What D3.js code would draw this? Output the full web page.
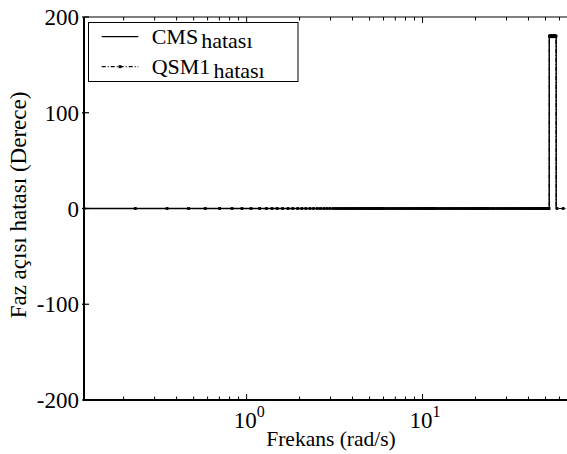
<!DOCTYPE html>
<html>
<head>
<meta charset="utf-8">
<script src="https://cdn.jsdelivr.net/npm/d3@7"></script>
<style>
  html, body { margin: 0; padding: 0; background: #fff; }
  svg { display: block; }
</style>
</head>
<body>
<svg id="chart" width="567" height="454"></svg>
<script>
// ---- data ----
const yTicks = [-200, -100, 0, 100, 200];
const xMajorTicks = [1, 10];
const xMajorExponents = ["0", "1"];
const xMinorTicks = [0.2, 0.3, 0.4, 0.5, 0.6, 0.7, 0.8, 0.9, 2, 3, 4, 5, 6, 7, 8, 9, 20, 30, 40, 50, 60, 70];
const xDomain = [0.119, 76.5];
const yDomain = [-200, 200];

// CMS error (solid line): breakpoints of the curve
const cmsFreq  = [0.119, 52.5, 52.5, 57.5, 57.5];
const cmsValue = [0,     0,    180,  180,  0];

// QSM1 error (dash-dot line with markers)
const qsmFreq  = [0.119, 52.5, 52.6, 57.4, 57.5, 66];
const qsmValue = [0,     0,    180,  180,  0,    0];
// marker positions at 0 deg
const qsmZeroMarkers = [0.119, 0.233, 0.353, 0.468, 0.582, 0.702, 0.826, 0.94, 1.059, 1.185, 1.294, 1.394, 1.49,
  1.6, 1.72, 1.83, 1.95, 2.06, 2.17, 2.29, 2.4, 2.52, 2.63, 2.75, 2.86, 2.97,
  3.1, 3.2, 3.3, 3.4, 3.5, 3.6, 3.7, 3.8, 3.9, 4.0, 4.1, 4.2, 4.3, 4.4, 4.5, 4.6, 4.7, 4.8, 4.9, 5.0,
  5.1, 5.2, 5.3, 5.4, 5.5, 5.6, 5.7, 5.8, 5.9, 6.0, 6.2, 6.4, 6.6, 6.8, 7.0, 7.2, 7.4, 7.6, 7.8, 8.0,
  8.2, 8.4, 8.6, 8.8, 9.0, 9.2, 9.4, 9.6, 9.8, 10.0, 10.2, 10.4, 10.6, 10.8, 11.0, 11.2, 11.4, 11.6, 11.8, 12.0,
  12.4, 12.8, 13.2, 13.6, 14.0, 14.4, 14.8, 15.2, 15.6, 16.0, 16.4, 16.8, 17.2, 17.6, 18.0, 18.4, 18.8,
  19.2, 19.6, 20.0, 20.4, 20.8, 21.2, 21.6, 22.0, 22.4, 22.8, 23.2, 23.6, 24.0, 24.8, 25.6, 26.4, 27.2,
  28.0, 28.8, 29.6, 30.4, 31.2, 32.0, 32.8, 33.6, 34.4, 35.2, 36.0, 36.8, 37.6, 38.4, 39.2, 40.0, 40.8,
  41.6, 42.4, 43.2, 44.0, 44.8, 45.6, 46.4, 47.2, 48.0, 48.8, 49.6, 50.4, 51.2, 52.0, 52.4,
  58.2, 63.0];
// marker positions at 180 deg
const qsmSpikeMarkers = [52.6, 53.0, 53.4, 53.8, 54.2, 54.6, 55.0, 55.4, 55.8, 56.2, 56.6, 57.0, 57.4];

const legendLabels = ["CMS", "QSM1"];
const legendSub = "hatası";
const xLabel = "Frekans (rad/s)";
const yLabel = "Faz açısı hatası (Derece)";

// ---- drawing ----
const FONT = "Liberation Serif";
const svg = d3.select("#chart");
const L = 84, R = 578, T = 17, B = 400;
const x = d3.scaleLog().domain(xDomain).range([L, R]);
const y = d3.scaleLinear().domain(yDomain).range([B, T]);

svg.append("rect").attr("width", 567).attr("height", 454).attr("fill", "#fff");

svg.append("defs").append("clipPath").attr("id", "plot")
  .append("rect").attr("x", L).attr("y", T - 4).attr("width", R - L).attr("height", B - T + 8);

const plot = svg.append("g").attr("clip-path", "url(#plot)");
const line = d3.line().x(d => x(d[0])).y(d => y(d[1]));

// QSM1 dash-dot
plot.append("path")
  .attr("d", line(qsmFreq.map((f, i) => [f, qsmValue[i]])))
  .attr("fill", "none").attr("stroke", "#000").attr("stroke-width", 1.2)
  .attr("stroke-dasharray", "4,2,1,2");

// markers
const markers = qsmZeroMarkers.map(f => [f, 0]).concat(qsmSpikeMarkers.map(f => [f, 180]));
plot.selectAll("rect.mk").data(markers).enter().append("rect")
  .attr("class", "mk")
  .attr("x", d => x(d[0]) - 1.4).attr("y", d => y(d[1]) - 1.4)
  .attr("width", 2.8).attr("height", 2.8).attr("fill", "#000");

// CMS solid
plot.append("path")
  .attr("d", line(cmsFreq.map((f, i) => [f, cmsValue[i]])))
  .attr("fill", "none").attr("stroke", "#000").attr("stroke-width", 1.4);

// the 180 plateau appears thick
plot.append("path")
  .attr("d", line([[52.5, 180], [57.5, 180]]))
  .attr("fill", "none").attr("stroke", "#000").attr("stroke-width", 4);

// axes frame
svg.append("line").attr("x1", L).attr("x2", 567).attr("y1", T).attr("y2", T)
  .attr("stroke", "#000").attr("stroke-width", 1.2);
svg.append("line").attr("x1", L).attr("x2", 567).attr("y1", B).attr("y2", B)
  .attr("stroke", "#000").attr("stroke-width", 2);
svg.append("line").attr("x1", L).attr("x2", L).attr("y1", T).attr("y2", B + 1)
  .attr("stroke", "#000").attr("stroke-width", 2);

// x ticks
const tk = svg.append("g");
xMajorTicks.concat(xMinorTicks).forEach(v => {
  const major = xMajorTicks.includes(v);
  const len = major ? 6 : 3.5;
  const px = x(v);
  if (px > 566) return;
  tk.append("line").attr("x1", px).attr("x2", px).attr("y1", B).attr("y2", B - len)
    .attr("stroke", "#000").attr("stroke-width", 1);
  tk.append("line").attr("x1", px).attr("x2", px).attr("y1", T).attr("y2", T + len)
    .attr("stroke", "#000").attr("stroke-width", 1);
});

// y ticks
yTicks.forEach(v => {
  tk.append("line").attr("x1", L - 2).attr("x2", L + 5).attr("y1", y(v)).attr("y2", y(v))
    .attr("stroke", "#000").attr("stroke-width", 1.2);
  svg.append("text").attr("x", L - 5).attr("y", y(v) + 8)
    .attr("font-family", FONT)
    .attr("text-anchor", "end").attr("font-size", 23).text(v);
});

// x tick labels
xMajorTicks.forEach((v, i) => {
  const t = svg.append("text").attr("x", x(v) - 13).attr("y", 428)
    .attr("font-family", FONT).attr("font-size", 23);
  t.append("tspan").text("10");
  t.append("tspan").attr("dy", -11).attr("font-size", 16).text(xMajorExponents[i]);
});

// axis labels
svg.append("text").attr("x", 331).attr("y", 446).attr("text-anchor", "middle")
  .attr("font-family", FONT).attr("font-size", 21.5).text(xLabel);
svg.append("text").attr("transform", "translate(26,205) rotate(-90)")
  .attr("font-family", FONT)
  .attr("text-anchor", "middle").attr("font-size", 23).text(yLabel);

// legend
const lg = svg.append("g");
lg.append("rect").attr("x", 88.5).attr("y", 22.5).attr("width", 209.5).attr("height", 59)
  .attr("fill", "#fff").attr("stroke", "#000").attr("stroke-width", 1);
const rows = [36.7, 66.7];
lg.append("line").attr("x1", 101.7).attr("x2", 138.3).attr("y1", rows[0]).attr("y2", rows[0])
  .attr("stroke", "#000").attr("stroke-width", 1.2);
lg.append("line").attr("x1", 101.7).attr("x2", 138.3).attr("y1", rows[1]).attr("y2", rows[1])
  .attr("stroke", "#000").attr("stroke-width", 1.2).attr("stroke-dasharray", "4,2,1,2");
lg.append("rect").attr("x", 120 - 1.5).attr("y", rows[1] - 1.5).attr("width", 3).attr("height", 3).attr("fill", "#000");
legendLabels.forEach((lab, i) => {
  const t = lg.append("text").attr("x", 151.7).attr("y", rows[i] + 7)
    .attr("font-family", FONT).attr("font-size", 22);
  t.append("tspan").text(lab);
  t.append("tspan").attr("dx", 3).attr("dy", 4).text(legendSub);
});
</script>
</body>
</html>
